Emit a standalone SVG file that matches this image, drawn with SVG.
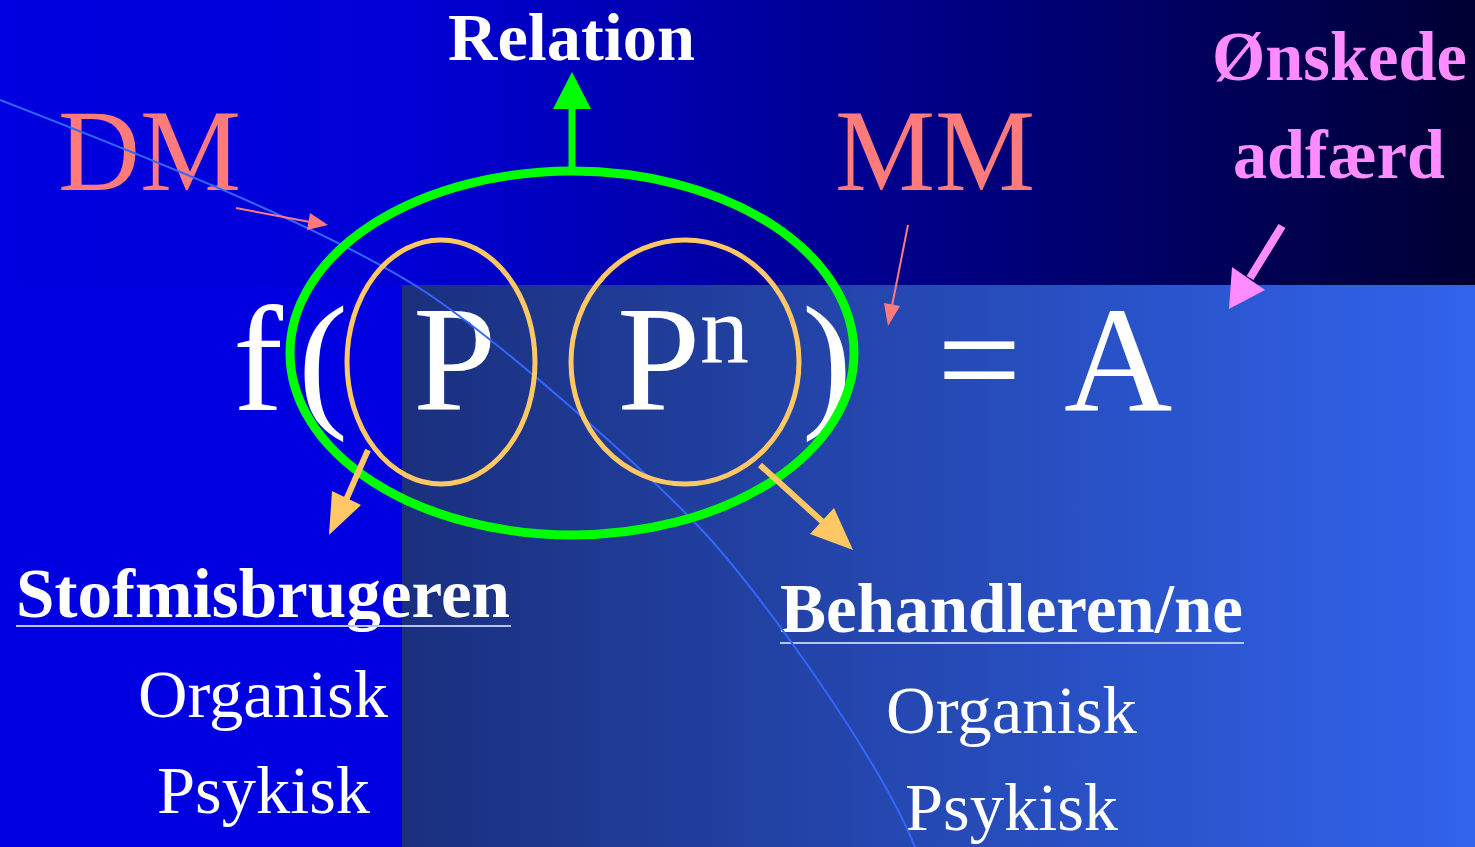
<svg xmlns="http://www.w3.org/2000/svg" width="1475" height="847" viewBox="0 0 1475 847">
<defs>
<linearGradient id="topg" gradientUnits="userSpaceOnUse" x1="0" y1="0" x2="1475" y2="0">
<stop offset="0" stop-color="#0000e0"/>
<stop offset="0.27" stop-color="#0000d6"/>
<stop offset="1" stop-color="#000033"/>
</linearGradient>
<linearGradient id="lowg" gradientUnits="userSpaceOnUse" x1="402" y1="0" x2="1475" y2="0">
<stop offset="0" stop-color="#1a307e"/>
<stop offset="1" stop-color="#3163ec"/>
</linearGradient>
</defs>
<style>
.t{font-family:"Liberation Serif","Times New Roman",serif;fill:#fff}
.b{font-weight:bold}
.sal{fill:#ff7b7b}
.pk{fill:#ff8cff}
.ul{stroke:#b8c4f0;stroke-width:2}
.or{stroke:#ffc864;fill:none}
.orf{fill:#ffc864}
</style>
<g id="background">
<rect x="0" y="0" width="1475" height="847" fill="url(#topg)"/>
<rect x="0" y="285" width="402" height="562" fill="#0000e0"/>
<rect x="402" y="285" width="1073" height="562" fill="url(#lowg)"/>
</g>
<g id="labels">
<text class="t b" x="448" y="60" font-size="68" textLength="247" lengthAdjust="spacingAndGlyphs">Relation</text>
<text class="t sal" x="58" y="190" font-size="116" textLength="183" lengthAdjust="spacingAndGlyphs">DM</text>
<text class="t sal" x="835" y="190" font-size="116" textLength="200" lengthAdjust="spacingAndGlyphs">MM</text>
<text class="t b pk" x="1212" y="80" font-size="70" textLength="255" lengthAdjust="spacingAndGlyphs">Ønskede</text>
<text class="t b pk" x="1233" y="178" font-size="70" textLength="212" lengthAdjust="spacingAndGlyphs">adfærd</text>
</g>
<g id="formula">
<text class="t" x="233" y="410" font-size="150">f</text>
<text class="t" x="298" y="410" font-size="150">(</text>
<text class="t" x="413" y="410" font-size="150">P</text>
<text class="t" x="617" y="410" font-size="150">P</text>
<text class="t" x="700" y="362" font-size="98">n</text>
<text class="t" x="802" y="410" font-size="150">)</text>
<text class="t" x="937" y="410" font-size="150">=</text>
<text class="t" x="1064" y="410" font-size="150">A</text>
</g>
<g id="stofmisbrugeren">
<text class="t b" x="16" y="617" font-size="69" textLength="494" lengthAdjust="spacingAndGlyphs">Stofmisbrugeren</text>
<line class="ul" x1="16" y1="626" x2="511" y2="626"/>
<text class="t" x="138" y="717" font-size="68" textLength="250" lengthAdjust="spacingAndGlyphs">Organisk</text>
<text class="t" x="157" y="813" font-size="68" textLength="213" lengthAdjust="spacingAndGlyphs">Psykisk</text>
</g>
<g id="behandleren">
<text class="t b" x="780" y="632" font-size="69" textLength="463" lengthAdjust="spacingAndGlyphs">Behandleren/ne</text>
<line class="ul" x1="780" y1="643" x2="1244" y2="643"/>
<text class="t" x="886" y="733" font-size="68" textLength="251" lengthAdjust="spacingAndGlyphs">Organisk</text>
<text class="t" x="905" y="830" font-size="68" textLength="213" lengthAdjust="spacingAndGlyphs">Psykisk</text>
</g>
<g id="curve">
<path d="M0,100 C180,170 340,235 430,295 C510,350 640,465 700,528 S880,760 915,847" fill="none" stroke="#3366ff" stroke-width="2"/>
</g>
<g id="ellipses">
<ellipse id="relation-ellipse" cx="572" cy="353" rx="282" ry="182" fill="none" stroke="#00ff00" stroke-width="9"/>
<ellipse id="p-ellipse" class="or" cx="441" cy="362" rx="94" ry="122" stroke-width="5"/>
<ellipse id="pn-ellipse" class="or" cx="685" cy="362" rx="114" ry="122" stroke-width="5"/>
</g>
<g id="connectors">
<line x1="572" y1="168" x2="572" y2="104" stroke="#00ff00" stroke-width="7"/>
<polygon points="572,72 553,109 591,109" fill="#00ff00"/>
<line class="or" x1="368" y1="450" x2="346" y2="500" stroke-width="6"/>
<polygon class="orf" points="329,535 332,491 361,505"/>
<line class="or" x1="760" y1="465" x2="825" y2="524" stroke-width="6"/>
<polygon class="orf" points="853,550 810,534 834,508"/>
<line x1="236" y1="208" x2="310" y2="222" stroke="#ff7b7b" stroke-width="2"/>
<polygon points="328,225 307,230 310,213" fill="#ff7b7b"/>
<line x1="908" y1="225" x2="892" y2="306" stroke="#ff7b7b" stroke-width="2"/>
<polygon points="888,326 884,303 900,306" fill="#ff7b7b"/>
<line x1="1282" y1="226" x2="1250" y2="278" stroke="#ff8cff" stroke-width="8"/>
<polygon points="1229,309 1232,267 1265,290" fill="#ff8cff"/>
</g>
</svg>
